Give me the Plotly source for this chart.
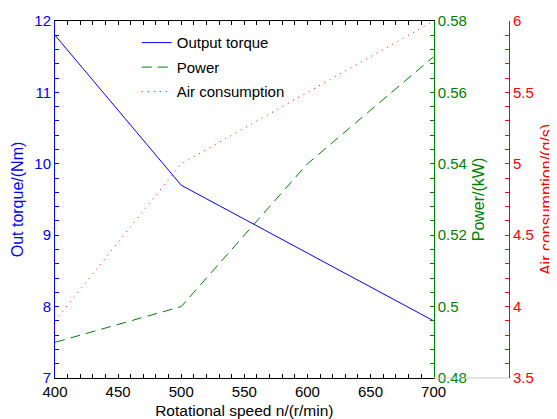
import plotly.graph_objects as go

speed = [400, 500, 600, 700]
torque = [11.8, 9.7, 8.75, 7.8]
power = [0.49, 0.50, 0.54, 0.57]
air = [3.9, 5.0, 5.5, 6.0]

BLUE = "#0000ff"
GREEN = "#008000"
RED = "#ff0000"
FONT = "Liberation Sans, Arial, sans-serif"

fig = go.Figure()
fig.add_trace(go.Scatter(x=speed, y=torque, mode="lines", name="Output torque", legendgroup="a",
                         line=dict(color=BLUE, width=1), yaxis="y"))
fig.add_trace(go.Scatter(x=speed, y=power, mode="lines", name="Power", legendgroup="b",
                         line=dict(color=GREEN, width=1, dash="10px,6px"), yaxis="y2"))
fig.add_trace(go.Scatter(x=speed, y=air, mode="lines", name="Air consumption", legendgroup="c",
                         line=dict(color=RED, width=1, dash="1px,5px"), yaxis="y3"))

xend = 0.834

fig.update_layout(
    width=549, height=411,
    margin=dict(l=47, r=48, t=13, b=41, autoexpand=False),
    paper_bgcolor="white", plot_bgcolor="white",
    font=dict(family=FONT, size=15, color="black"),
    showlegend=True,
    legend=dict(x=0.180, y=0.985, xanchor="left", yanchor="top", traceorder="grouped",
                tracegroupgap=2,
                bgcolor="rgba(0,0,0,0)", font=dict(size=15, color="black")),
    xaxis=dict(domain=[0, xend], range=[400, 700], dtick=50, tick0=400, automargin=False,
               showline=True, linecolor="black", linewidth=1, mirror="ticks",
               ticks="inside", ticklen=4, tickcolor="black",
               minor=dict(dtick=10, ticks="inside", ticklen=4, tickcolor="black"),
               showgrid=False, zeroline=False,
               tickfont=dict(size=15, color="black"),
               title=dict(text="Rotational speed n/(r/min)", font=dict(size=15.5, color="black"),
                          standoff=8)),
    yaxis=dict(range=[7, 12], dtick=1, showline=True, linecolor=BLUE, linewidth=1,
               automargin=False,
               ticks="inside", ticklen=4, tickcolor=BLUE,
               minor=dict(dtick=0.2, ticks="inside", ticklen=4, tickcolor=BLUE),
               showgrid=False, zeroline=False,
               tickfont=dict(size=15, color=BLUE),
               title=dict(text="Out torque/(Nm)", font=dict(size=16, color=BLUE), standoff=6)),
    yaxis2=dict(overlaying="y", side="right", anchor="x", range=[0.48, 0.58], dtick=0.02,
                automargin=False,
                showline=True, linecolor=GREEN, linewidth=1,
                ticks="inside", ticklen=4, tickcolor=GREEN,
                minor=dict(dtick=0.004, ticks="inside", ticklen=4, tickcolor=GREEN),
                showgrid=False, zeroline=False,
                tickfont=dict(size=15, color=GREEN),
                title=dict(text="Power/(kW)", font=dict(size=16, color=GREEN), standoff=6)),
    yaxis3=dict(overlaying="y", side="right", anchor="free", position=1,
                range=[3.5, 6], dtick=0.5, automargin=False,
                showline=True, linecolor=RED, linewidth=1,
                ticks="inside", ticklen=4, tickcolor=RED,
                minor=dict(dtick=0.1, ticks="inside", ticklen=4, tickcolor=RED),
                showgrid=False, zeroline=False,
                tickfont=dict(size=15, color=RED),
                title=dict(text="Air consumption/(g/s)", font=dict(size=16, color=RED), standoff=7)),
    shapes=[dict(type="line", xref="paper", yref="paper", x0=xend, x1=1, y0=0, y1=0,
                 line=dict(color="#c8c8c8", width=1))],
)

fig.write_html("out.html")
